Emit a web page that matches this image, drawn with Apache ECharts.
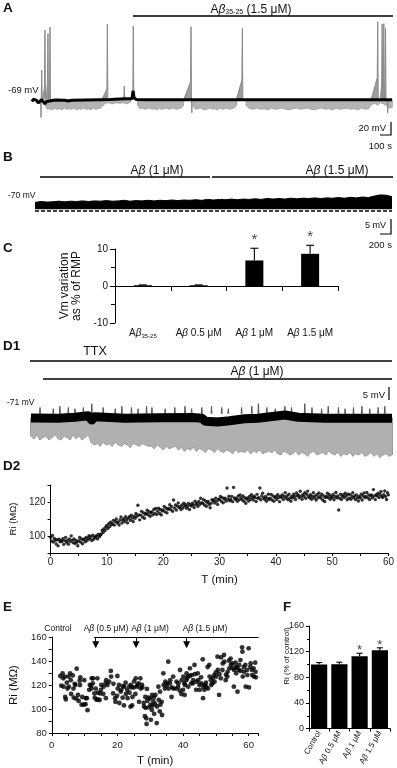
<!DOCTYPE html>
<html><head><meta charset="utf-8">
<script src="https://cdn.jsdelivr.net/npm/echarts@6/dist/echarts.min.js"></script>
<style>html,body{margin:0;padding:0;background:#fff}#c{width:397px;height:768px}</style>
</head><body><div id="c"></div>
<script>
// ---------------- DATA ----------------
// Panel A (time s, membrane potential mV)
const aBaseT = [0,12,25,37,52,67,81,92,108,121,136,192,275,300,333,442,567,650,775,833,842,850,867,983,1300,1700,2200,2600,2900,3000];
const aBaseV = [-73,-69,-68.5,-71,-75,-72,-70,-73,-77,-73,-71,-70.5,-70.8,-72,-71,-70.3,-69.8,-69.5,-68.5,-68.5,-55,-66,-69.5,-70,-70,-69.8,-70,-69.8,-70,-70];
const aLow = [
 [110,-80],[130,-86],[150,-85],[170,-87],[190,-84],[210,-86],[230,-85],[250,-87],[270,-84],[290,-86],[310,-85],[330,-86],[350,-84],[370,-87],[390,-85],[410,-86],[430,-84],[450,-86],[470,-85],[490,-87],[510,-84],[530,-86],[550,-85],[570,-84],[590,-80],
 [610,-76],[640,-75],[670,-77],[700,-75],[730,-76],[760,-75],[790,-77],[820,-74],[835,null],
 [880,-79],[900,-85],[920,-84],[940,-86],[960,-85],[980,-84],[1000,-86],[1020,-85],[1040,-87],[1060,-84],[1080,-86],[1100,-85],[1120,-84],[1140,-86],[1160,-85],[1180,-84],[1200,-86],[1220,-85],[1240,-84],[1260,-80],[1270,null],
 [1345,-82],[1365,-86],[1385,-85],[1405,-84],[1425,-86],[1445,-87],[1465,-85],[1485,-84],[1505,-86],[1525,-85],[1545,-87],[1565,-84],[1585,-86],[1605,-85],[1625,-84],[1645,-86],[1665,-85],[1685,-84],[1705,-79],[1715,null],
 [1785,-80],[1815,-85],[1845,-86],[1875,-84],[1905,-86],[1935,-85],[1965,-87],[1995,-84],[2025,-86],[2055,-85],[2085,-84],[2115,-86],[2145,-87],[2175,-85],[2205,-84],[2235,-86],[2265,-85],[2295,-84],[2325,-86],[2355,-87],[2385,-85],[2415,-84],[2445,-86],[2475,-85],[2505,-87],[2535,-84],[2565,-86],[2595,-85],[2625,-84],[2655,-86],[2685,-85],[2715,-87],[2745,-84],[2775,-86],[2805,-85],
 [2830,-78],[2855,-76],[2880,-79],[2905,-75],[2930,-77],[2955,-80],[2975,-84],[3000,-83]
];
const aSpikeT  = [81,108,133,150,628,769,844,1325,1753,2881,2918,2932,2946];
const aSpikeV  = [-20,47,41,52,57,-47,54,53,50,61,57,58,50];
const aRampV   = [-69,-50,-40,-45,-52,-69,-69,-40,-37,-33,-45,-40,-50];
const aRampLen = [0,15,10,10,40,0,0,55,45,50,12,8,8];
const aDipT = [75,1332,2964];
const aDipV = [-100,-92,-92];

// Panel B (time s step 100, upper edge of trace mV)
const bStep = 100;
const bUpper = [-69.3,-69.0,-69.2,-69.1,-68.9,-69.1,-68.9,-69.0,-68.8,-69.0,-68.8,-68.9,-68.7,-68.9,-68.8,-68.6,-68.9,-68.7,-68.8,-68.6,
 -68.8,-68.6,-68.7,-68.5,-68.7,-68.5,-68.6,-68.4,-68.6,-68.3,-68.5,-68.3,-68.4,-68.2,-68.4,-68.2,-68.3,-68.1,-68.3,-68.0,
 -68.2,-68.0,-68.2,-67.9,-68.1,-67.9,-68.0,-67.8,-68.0,-67.8,-67.9,-67.7,-67.9,-67.6,-67.8,-67.5,-67.7,-67.2,-66.8,-66.9,-67.4];
const bLowerLevel = -71.6;
const bDashLevel = -72.2;

// Panel C
const catC = ['Aβ35-25','Aβ 0.5 μM','Aβ 1 μM','Aβ 1.5 μM'];
const valC = [0.2,0.2,6.9,8.7];
const errC = [0.1,0.1,3.3,2.3];
const sigC = [false,false,true,true];

// Panel D1 (time min)
const d1CenterT = [0,4.5,7.3,9.5,10.1,10.6,15.6,21.1,26.8,28.4,29,31,33,35.5,37.7,42.2,44.4,48.9,60];
const d1CenterV = [-75.2,-75.3,-74.9,-74.3,-76,-74.7,-75.3,-75.1,-75,-75.3,-76.5,-76.8,-76.3,-75.5,-75.3,-74,-74.9,-75.3,-75.3];
const d1Step = 0.5;
const d1Lower = [
 -82.5,-83.5,-82,-84,-83,-82.5,-84,-83,-82,-83.5,-84,-82.5,-83,-84,-82,-83.5,-82.5,-84,-83,-82,
 -85,-86,-85.5,-86.5,-85,-86,-85.5,-86.5,-85,-86,-86.5,-85.5,-86,-87,-85.5,-86,-86.5,-85.5,-86,-86.5,
 -86.5,-87.5,-86,-87,-88,-86.5,-87.5,-87,-86.5,-88,-87,-88.5,-87.5,-88,-87,-88.5,-87.5,-88,-89,-87.5,
 -88,-89,-87.5,-88.5,-89,-88,-88.5,-89.5,-88,-89,-88.5,-89,-88,-89.5,-88.5,-89,-88,-89.5,-89,-88.5,
 -89,-88,-89.5,-90,-88.5,-89,-90,-89.5,-88.5,-90,-89,-89.5,-90.5,-89,-88.5,-90,-89.5,-89,-90,-88.5,
 -89.5,-90,-89,-90.5,-89.5,-90,-89,-90.5,-89.5,-90,-89,-90.5,-90,-89,-90.5,-89.5,-91,-90,-89.5,-90.5,-90];
const d1SpikeT = [1.5,3.7,4.8,6.2,7.3,8.7,10.1,12.0,14.0,15.1,16.7,17.8,19.2,20.1,22.3,23.9,25.6,26.7,28.4,30.0,31.7,32.8,35.0,36.7,37.8,39.2,40.6,42.2,43.3,45.5,46.7,48.3,49.4,51.1,52.2,53.6,55.0,56.3,57.7,58.8];
const d1SpikeV = [-71,-71.5,-70.5,-71,-71.5,-71,-69.5,-71,-71.5,-70.5,-71,-71.5,-70.5,-71,-71.5,-71,-70.5,-71.5,-71,-70.5,-71,-71.5,-71,-70.5,-69.5,-71,-71.5,-70.5,-71,-69.5,-71,-71.5,-70.5,-71,-71.5,-71,-70.5,-71.5,-71,-70.5];

// Panel D2 (Ri MΩ every 10 s)
const d2Step = 1/6;
const d2Ri = [
99.2,97.1,100.3,96.4,98.6,97.5,
95.3,97.8,94.2,98.1,96.6,97.2,
96.8,98.4,95.1,97.3,99.2,96.2,
97.4,95.2,98.3,96.7,100.1,97.6,
96.1,98.2,95.6,97.4,96.3,94.3,
97.2,99.1,96.4,98.3,95.4,97.7,
98.3,96.6,99.2,97.4,98.7,100.2,
98.2,99.6,97.3,100.4,98.1,99.3,
99.4,100.2,98.3,101.1,99.6,100.5,
101.2,103.4,102.1,104.3,103.2,105.4,
106.2,104.4,107.3,105.5,108.1,106.6,
107.3,109.2,106.4,108.6,110.1,107.7,
108.2,106.5,109.4,111.2,107.6,109.3,
110.2,108.4,111.3,109.6,107.7,110.5,
111.4,109.3,112.2,110.6,108.5,111.7,
110.4,113.2,111.6,118.1,112.4,109.5,
112.3,114.5,111.2,113.6,110.4,112.7,
113.4,115.2,112.5,114.3,111.6,113.7,
114.2,112.4,115.6,113.3,116.2,112.6,
114.5,116.3,113.2,115.6,112.4,114.7,
115.3,117.4,114.2,116.5,113.6,115.7,
116.2,118.4,115.5,117.3,114.6,121.2,
116.4,118.2,115.3,117.6,119.4,116.7,
117.3,115.6,118.2,116.5,119.3,117.6,
118.4,116.3,117.5,119.2,115.6,118.3,
117.6,119.3,118.2,116.7,120.4,118.5,
119.2,117.4,120.3,118.6,122.2,119.5,
119.3,121.4,118.2,120.6,117.5,119.7,
120.3,118.5,116.6,119.2,121.4,120.6,
121.2,119.4,122.3,120.5,118.6,121.7,
121.4,123.2,120.3,122.6,119.5,121.7,
122.3,120.5,128.2,121.6,123.4,120.7,
121.5,123.3,120.2,128.6,122.4,121.6,
122.2,120.4,123.5,121.3,124.2,122.6,
121.3,123.6,120.4,122.5,119.3,121.7,
122.4,120.6,123.2,121.5,124.3,122.7,
121.2,123.4,122.6,120.3,124.5,122.2,
122.5,128.2,121.3,123.6,125.2,122.4,
121.6,123.3,120.5,122.2,124.6,121.4,
122.3,124.5,121.2,123.6,120.4,122.7,
123.2,121.5,124.3,122.6,120.2,123.4,
122.6,124.2,121.4,123.3,125.5,122.2,
123.5,121.3,124.6,122.2,120.5,123.3,
122.4,124.6,123.2,121.5,125.3,123.6,
124.2,122.5,126.3,123.4,121.6,124.5,
123.3,125.5,122.2,124.6,126.4,123.2,
122.5,124.3,121.6,123.2,125.4,122.3,
123.6,121.2,124.4,122.5,125.3,123.2,
122.3,124.6,121.2,123.5,120.3,122.6,
123.4,125.2,122.5,124.3,121.6,123.3,
122.6,124.4,121.3,123.2,125.6,122.4,
123.5,115.3,122.2,124.6,121.4,123.2,
124.3,122.6,125.2,123.5,121.3,124.6,
122.2,124.5,121.6,123.3,125.4,122.5,
123.6,121.4,124.2,122.5,120.6,123.3,
122.4,124.6,121.2,123.5,125.3,122.6,
123.3,125.6,122.4,124.2,121.5,123.6,
124.2,122.5,127.3,123.6,121.4,124.3,
123.5,125.2,122.6,124.4,126.2,123.3,
122.6,124.3,126.5,123.2,121.5,125.4,
124.2];

// Panel E (T min, Ri MΩ)
const ePts = [
[2.6,127.5],[2.9,119.4],[3.3,129.7],[3.5,125.6],[3.6,118.6],[4.0,127],[4.1,110],[4.3,108],[4.6,122],[4.8,117],[5.1,127],[5.2,118.6],[5.6,129.7],[5.8,124],[5.9,112.5],[6.4,128],[6.6,117],[6.7,109.4],[7.0,121],[7.2,120],[7.6,133.6],[7.5,108.6],[8.0,111.7],[8.2,106.7],[8.5,123.6],[8.7,126.4],[8.6,120],[9.1,103.6],[9.3,110],[9.8,103.6],[9.9,124],[10.3,104],[10.4,109],[10.9,99],[10.7,109],[11.4,116],[11.6,120],[12.0,119.4],[12.1,117],[12.2,125.6],[12.6,125.6],[12.5,121.4],[13.0,113],[13.1,109.4],[13.6,107.8],[13.4,117],[14.0,108],[14.1,113.6],[13.9,125.6],[14.6,107.5],[14.7,113],[15.1,120],[15.0,116],[15.7,112.5],[15.8,118.6],[16.4,121.4],[16.6,124],[16.5,109],[17.0,120],[17.5,122.8],[18.0,131.7],[18.1,127],[18.7,113],[18.8,121],[19.3,109],[19.4,106],[20.0,127.5],[20.1,117],[19.9,111],[20.5,120],[20.6,105],[21.0,114.4],[21.2,116],[21.6,109.4],[21.7,119],[22.0,103],[22.1,118.6],[22.5,121.9],[22.6,112.5],[23.0,116],[23.1,109],[23.6,118.6],[23.7,113.6],[24.0,101.9],[24.1,120],[24.5,103],[24.6,110],[24.4,118],[25.0,118],[25.1,123],[25.5,112.5],[25.6,125.6],[26.0,118.6],[26.1,120],[26.5,121.4],[26.6,106],[27.0,125.6],[27.1,117],[27.5,120],[27.6,118],[28.0,105],[28.1,102],[28.5,110],[28.6,101],[28.4,94],[29.0,116.7],[29.1,106.7],[28.8,92.2],[28.9,87.5],[29.5,109.4],[29.6,101.4],[30.0,108.6],[30.1,103.6],[30.2,91],[30.6,111.7],[30.7,102.8],[30.5,99.2],[31.0,106],[31.1,109.4],[31.2,96],[31.5,104],[31.6,111.7],[32.0,88.3],[32.1,102],[32.5,118.6],[32.6,107.5],[33.0,114.4],[33.1,103.6],[32.9,98],[33.5,106],[33.6,95],[34.0,129.7],[34.1,120],[34.5,117],[34.6,122.8],[35.0,119.4],[35.1,121.4],[35.5,139.4],[35.6,117],[36.0,121.4],[36.1,124],[36.5,110],[36.6,118],[37.0,127],[37.1,117],[38.0,122.8],[37.9,117],[38.5,118.6],[38.6,121.4],[39.0,115.3],[39.1,132.5],[39.5,112.5],[39.6,124],[40.0,116],[40.1,127],[40.5,111.7],[40.6,120],[40.4,121.4],[41.0,124],[41.1,129.7],[41.2,125.6],[41.5,127],[41.6,118.6],[42.0,127.5],[42.1,133.9],[42.5,121.4],[42.6,128.3],[43.0,121.4],[43.1,124],[43.5,136.7],[43.6,129],[44.0,116],[44.1,122.8],[44.5,129.7],[44.6,124],[45.0,120],[45.1,116],[45.5,126.4],[45.6,121.4],[46.0,141.4],[46.1,109],[46.2,118.6],[46.5,116],[46.6,120],[47.0,121.9],[47.1,118.6],[47.5,135],[47.6,117],[48.0,136.7],[48.1,127],[48.5,124],[48.6,120],[49.0,121.4],[49.1,126],[49.5,128.3],[49.6,122.8],[50.0,130.6],[50.1,127],[50.5,143.6],[50.6,132.5],[51.0,111.7],[51.1,129],[51.5,125.6],[51.6,143],[52.0,132.5],[52.1,138],[52.5,145],[52.6,139.4],[53.0,124],[53.1,128.6],[53.5,127],[53.6,131],[54.0,140.3],[54.1,133.9],[54.5,142],[54.6,136.7],[55.0,138],[55.1,133.9],[55.5,118.6],[55.6,132.5],[56.0,138.6],[56.1,135],[56.2,129.7],[56.5,134.4],[56.6,114.4],[57.0,132.5],[57.1,136.7],[57.5,140.8],[57.6,131.7],[58.0,151.4],[58.1,147.8],[58.2,127],[58.5,135],[58.6,131],[59.0,136.7],[59.1,118.6],[59.5,132.5],[59.6,128.3],[60.0,150.6],[60.1,118],[60.5,135],[60.6,138],[61.0,132.5],[61.1,128.3],[61.5,133.9],[61.6,127],[62.0,138.6],[62.1,131],[62.2,126.4]
];
const eArrowT = [13.4,25.7,41.1];
const eLineStart = 12.9;

// Panel F
const catF = ['Control','Aβ 0.5 μM','Aβ 1 μM','Aβ 1.5 μM'];
const valF = [100,100.5,113,122];
const errF = [3,3,4.5,4];
const sigF = [false,false,true,true];

// ---------------- BUILD ----------------
const FF = '"Liberation Sans", Arial, Helvetica, sans-serif';
const INK = '#111';

function richFor(fs){
  return {
    i:{fontStyle:'italic', fontSize:fs, fontFamily:FF, fill:INK, color:INK},
    s:{fontSize:Math.round(fs*0.62), fontFamily:FF, fill:INK, color:INK, padding:[Math.round(fs*0.45),0,0,0]}
  };
}
function fmtText(s){ return s.replace('β','{i|β}').replace('35-25','{s|35-25}'); }
function txt(x,y,s,fs,align,extra){
  const el = {type:'text', x:x, y:y, silent:true, style:{text:fmtText(s), rich:richFor(fs), fontSize:fs, fontFamily:FF, fill:INK,
    textAlign:align||'left', align:align||'left', textVerticalAlign:'middle', verticalAlign:'middle'}};
  return Object.assign(el, extra||{});
}
function bold(x,y,s){ return {type:'text', x:x, y:y, silent:true, style:{text:s, fontSize:13.5, fontWeight:'bold', fontFamily:FF, fill:INK, textAlign:'left', align:'left', textVerticalAlign:'middle', verticalAlign:'middle'}}; }
function hline(x1,x2,y,w){ return {type:'line', silent:true, shape:{x1:x1,y1:y,x2:x2,y2:y}, style:{stroke:'#000', lineWidth:w||1.3}}; }
function pline(pts,w){ return {type:'polyline', silent:true, shape:{points:pts}, style:{stroke:'#000', lineWidth:w||1.3, fill:null}}; }

function spikes(ts, peaks, base, rampV, rampLen, half){
  const out = [];
  for (let i=0;i<ts.length;i++){
    const t = ts[i];
    const rl = rampLen ? rampLen[i] : 0;
    const rv = rampV ? rampV[i] : base;
    out.push([t-half-rl, base]);
    out.push([t-half, rv]);
    out.push([t, peaks[i]]);
    out.push([t+half, base]);
    out.push([t+half, '-']);
  }
  return out;
}
function stripeRender(base, color, w){
  return function(params, api){
    const v = api.value(1);
    if (isNaN(v)) return null;
    const p0 = api.coord([api.value(0), base]);
    const p1 = api.coord([api.value(0), v]);
    return {type:'line', shape:{x1:p0[0],y1:p0[1],x2:p1[0],y2:p1[1]}, style:{stroke:color, lineWidth:w}};
  };
}

const aBase = aBaseT.map((t,i)=>[t,aBaseV[i]]);
const aLowData = aLow.map(p=>[p[0], p[1]===null?'-':p[1]]);
const bData = bUpper.map((v,i)=>[i*bStep, v]);
const d1Center = d1CenterT.map((t,i)=>[t,d1CenterV[i]]);
const d1LowData = d1Lower.map((v,i)=>[i*d1Step, v]);
const d2Data = d2Ri.map((v,i)=>[i*d2Step, v]);

function errRender(cap){
  return function(params, api){
    const x = api.value(0), v = api.value(1), e = api.value(2);
    const p0 = api.coord([x, v]);
    const p1 = api.coord([x, v+e]);
    return {type:'group', children:[
      {type:'line', shape:{x1:p0[0],y1:p0[1],x2:p1[0],y2:p1[1]}, style:{stroke:'#000', lineWidth:1.1}},
      {type:'line', shape:{x1:p1[0]-cap,y1:p1[1],x2:p1[0]+cap,y2:p1[1]}, style:{stroke:'#000', lineWidth:1.1}}
    ]};
  };
}

const axisLineBlack = {show:true, lineStyle:{color:'#000', width:1}};
const noSplit = {show:false};
function hidden(gi, min, max, type){ return {type:type||'value', gridIndex:gi, min:min, max:max, show:false, splitLine:noSplit}; }

const option = {
  animation:false,
  backgroundColor:'#fff',
  textStyle:{fontFamily:FF},
  grid:[
    {left:32, top:20, width:360, height:100},
    {left:35, top:185, width:357, height:30},
    {left:115, top:249, width:223, height:74},
    {left:31, top:395, width:361, height:65},
    {left:38, top:485, width:354, height:68},
    {left:38, top:637, width:220.5, height:96},
    {left:309, top:626, width:81, height:107}
  ],
  xAxis:[
    hidden(0,0,3000),
    hidden(1,0,6000),
    {type:'category', gridIndex:2, data:catC, axisLine:Object.assign({onZero:true}, axisLineBlack),
      axisTick:{show:true, alignWithLabel:false, length:5, lineStyle:{color:'#000'}},
      axisLabel:{fontSize:10, margin:5, color:INK, fontFamily:FF, interval:0, formatter:fmtText, rich:richFor(10)}, splitLine:noSplit},
    hidden(3,0,60),
    {type:'value', gridIndex:4, min:0, max:60, interval:10, axisLine:axisLineBlack,
      axisTick:{show:true, length:3, lineStyle:{color:'#000'}}, minorTick:{show:true, splitNumber:2, length:3, lineStyle:{color:'#000'}},
      axisLabel:{fontSize:10, margin:4, color:'#222', fontFamily:FF}, splitLine:noSplit, minorSplitLine:{show:false},
      name:'T (min)', nameLocation:'middle', nameGap:21, nameTextStyle:{fontSize:11.5, color:INK, fontFamily:FF}},
    {type:'value', gridIndex:5, min:0, max:63, interval:20, axisLine:axisLineBlack,
      axisTick:{show:true, length:3, lineStyle:{color:'#000'}}, minorTick:{show:true, splitNumber:4, length:3, lineStyle:{color:'#000'}},
      axisLabel:{fontSize:9.5, margin:7, color:'#222', fontFamily:FF, showMaxLabel:false, formatter:function(v){return v%20===0? String(v):'';}},
      splitLine:noSplit, minorSplitLine:{show:false},
      name:'T (min)', nameLocation:'middle', nameGap:22, nameTextStyle:{fontSize:11.5, color:INK, fontFamily:FF}},
    {type:'category', gridIndex:6, data:catF, axisLine:axisLineBlack,
      axisTick:{show:true, alignWithLabel:false, length:3, lineStyle:{color:'#000'}},
      axisLabel:{fontSize:8, margin:3, rotate:60, color:INK, fontFamily:FF, interval:0, formatter:fmtText, rich:richFor(8)}, splitLine:noSplit}
  ],
  yAxis:[
    hidden(0,-104,64),
    hidden(1,-73.5,-63.5),
    {type:'value', gridIndex:2, min:-10, max:10, interval:10, axisLine:axisLineBlack,
      axisTick:{show:true, length:5, lineStyle:{color:'#000'}}, minorTick:{show:true, splitNumber:2, length:4, lineStyle:{color:'#000'}},
      axisLabel:{fontSize:10, margin:7, color:INK, fontFamily:FF}, splitLine:noSplit, minorSplitLine:{show:false},
      name:'Vm variation\nas % of RMP', nameLocation:'middle', nameGap:25, nameTextStyle:{fontSize:12, lineHeight:12, color:INK, fontFamily:FF}},
    hidden(3,-92,-66),
    {type:'value', gridIndex:4, min:90, max:130, interval:10, axisLine:axisLineBlack,
      axisTick:{show:true, length:3, lineStyle:{color:'#000'}},
      axisLabel:{fontSize:10, margin:5, color:'#222', fontFamily:FF, formatter:function(v){return (v===100||v===120)? String(v):'';}},
      splitLine:noSplit,
      name:'Ri (MΩ)', nameLocation:'middle', nameGap:21, nameTextStyle:{fontSize:9.5, color:INK, fontFamily:FF}},
    {type:'value', gridIndex:5, min:80, max:160, interval:20, axisLine:axisLineBlack,
      axisTick:{show:true, length:3, lineStyle:{color:'#000'}}, minorTick:{show:true, splitNumber:2, length:3, lineStyle:{color:'#000'}},
      axisLabel:{fontSize:9.5, margin:5, color:'#222', fontFamily:FF}, splitLine:noSplit, minorSplitLine:{show:false},
      name:'Ri (MΩ)', nameLocation:'middle', nameGap:18, nameTextStyle:{fontSize:11.5, color:INK, fontFamily:FF}},
    {type:'value', gridIndex:6, min:0, max:160, interval:40, axisLine:axisLineBlack,
      axisTick:{show:true, length:3, lineStyle:{color:'#000'}}, minorTick:{show:true, splitNumber:2, length:2, lineStyle:{color:'#000'}},
      axisLabel:{fontSize:9, margin:5, color:'#222', fontFamily:FF}, splitLine:noSplit, minorSplitLine:{show:false}}
  ],
  series:[
    // A
    {type:'line', xAxisIndex:0, yAxisIndex:0, data:aLowData, symbol:'none', connectNulls:false,
      lineStyle:{color:'#a0a0a0', width:0.8}, areaStyle:{color:'#b4b4b4', opacity:1, origin:-69}},
    {type:'custom', xAxisIndex:0, yAxisIndex:0, renderItem:stripeRender(-69,'#858585',1.1), data:aLowData},
    {type:'line', xAxisIndex:0, yAxisIndex:0, data:spikes(aSpikeT, aSpikeV, -69, aRampV, aRampLen, 4), symbol:'none', connectNulls:false,
      lineStyle:{color:'#8a8a8a', width:1}, areaStyle:{color:'#9c9c9c', opacity:1, origin:-69}},
    {type:'line', xAxisIndex:0, yAxisIndex:0, data:spikes(aDipT, aDipV, -70, null, null, 3), symbol:'none', connectNulls:false,
      lineStyle:{color:'#8a8a8a', width:1}},
    {type:'line', xAxisIndex:0, yAxisIndex:0, data:aBase, symbol:'none', lineStyle:{color:'#000', width:3}},
    // B
    {type:'line', xAxisIndex:1, yAxisIndex:1, data:bData, symbol:'none', lineStyle:{color:'#000', width:1},
      areaStyle:{color:'#000', opacity:1, origin:bLowerLevel},
      markLine:{silent:true, symbol:['none','none'], label:{show:false}, animation:false,
        lineStyle:{color:'#000', width:1.6, type:[4,2]}, data:[{yAxis:bDashLevel}]}},
    // C
    {type:'bar', xAxisIndex:2, yAxisIndex:2, data:valC, barWidth:18, itemStyle:{color:'#000'}},
    {type:'custom', xAxisIndex:2, yAxisIndex:2, renderItem:errRender(4), data:valC.map((v,i)=>[i,v,errC[i]]), z:3},
    {type:'scatter', xAxisIndex:2, yAxisIndex:2, clip:false, symbolSize:0,
      data:valC.map((v,i)=> sigC[i] ? [i, v+errC[i]] : [i,'-']),
      label:{show:true, formatter:'*', position:'top', distance:1, fontSize:15, color:INK, fontFamily:FF}},
    // D1
    {type:'line', xAxisIndex:3, yAxisIndex:3, data:d1LowData, symbol:'none', lineStyle:{color:'#9a9a9a', width:0.8},
      areaStyle:{color:'#b0b0b0', opacity:1, origin:-75}},
    {type:'custom', xAxisIndex:3, yAxisIndex:3, renderItem:stripeRender(-75,'#6f6f6f',1.4), data:d1LowData},
    {type:'line', xAxisIndex:3, yAxisIndex:3, data:spikes(d1SpikeT, d1SpikeV, -73.5, null, null, 0.08), symbol:'none', connectNulls:false,
      lineStyle:{color:'#555', width:1}},
    {type:'line', xAxisIndex:3, yAxisIndex:3, data:d1Center, symbol:'none', lineStyle:{color:'#000', width:9, join:'round'}},
    // D2
    {type:'scatter', xAxisIndex:4, yAxisIndex:4, data:d2Data, symbolSize:3.4, itemStyle:{color:'#000'}},
    // E
    {type:'scatter', xAxisIndex:5, yAxisIndex:5, data:ePts, symbolSize:4.8, itemStyle:{color:'#000'},
      markLine:{silent:true, symbol:['none','none'], label:{show:false}, animation:false,
        lineStyle:{color:'#000', width:1, type:'solid'},
        data:[[{coord:[eLineStart,160]},{coord:[63,160]}]].concat(eArrowT.map(t=>[{coord:[t,160]},{coord:[t,153.5], symbol:'triangle', symbolSize:[7,7]}]))}},
    // F
    {type:'bar', xAxisIndex:6, yAxisIndex:6, data:valF, barWidth:'80%', itemStyle:{color:'#000'}},
    {type:'custom', xAxisIndex:6, yAxisIndex:6, renderItem:errRender(3), data:valF.map((v,i)=>[i,v,errF[i]]), z:3},
    {type:'scatter', xAxisIndex:6, yAxisIndex:6, clip:false, symbolSize:0,
      data:valF.map((v,i)=> sigF[i] ? [i, v+errF[i]] : [i,'-']),
      label:{show:true, formatter:'*', position:'top', distance:-4, fontSize:13, color:INK, fontFamily:FF}}
  ],
  graphic:[
    // A
    bold(3,8,'A'),
    txt(251,10,'Aβ35-25 (1.5 μM)',12,'center'),
    hline(133,393,16,1.5),
    txt(8,90,'-69 mV',9.5,'left'),
    pline([[391,122],[391,135],[380,135]],1.2),
    txt(386,128,'20 mV',9.5,'right'),
    txt(392,146,'100 s',9.5,'right'),
    // B
    bold(3,157.5,'B'),
    txt(157,171,'Aβ (1 μM)',12,'center'),
    hline(40,210,177,1.5),
    txt(337,171,'Aβ (1.5 μM)',12,'center'),
    hline(212,393,177,1.5),
    txt(8,196,'-70 mV',8.5,'left'),
    pline([[391,219],[391,234],[380,234]],1.2),
    txt(386,226,'5 mV',9,'right'),
    txt(392,245,'200 s',9.5,'right'),
    // C
    bold(3,248.5,'C'),
    // D1
    bold(3,346,'D1'),
    txt(95,352,'TTX',12.5,'center'),
    hline(30,392,361,1.5),
    txt(257,372,'Aβ (1 μM)',12,'center'),
    hline(43,392,379,1.5),
    txt(7,403,'-71 mV',8.5,'left'),
    pline([[389,387],[389,400]],1.2),
    txt(385,395,'5 mV',9.5,'right'),
    // D2
    bold(3,466,'D2'),
    // E
    bold(3,607,'E'),
    txt(58,629,'Control',8.5,'center'),
    txt(106,629,'Aβ (0.5 μM)',8.5,'center'),
    txt(150,629,'Aβ (1 μM)',8.5,'center'),
    txt(205,629,'Aβ (1.5 μM)',8.5,'center'),
    // F
    bold(283,607,'F'),
    txt(286.5,656,'Ri (% of control)',8,'center',{rotation:Math.PI/2})
  ]
};

const chart = echarts.init(document.getElementById('c'), null, {renderer:'canvas', width:397, height:768});
chart.setOption(option);
</script></body></html>
